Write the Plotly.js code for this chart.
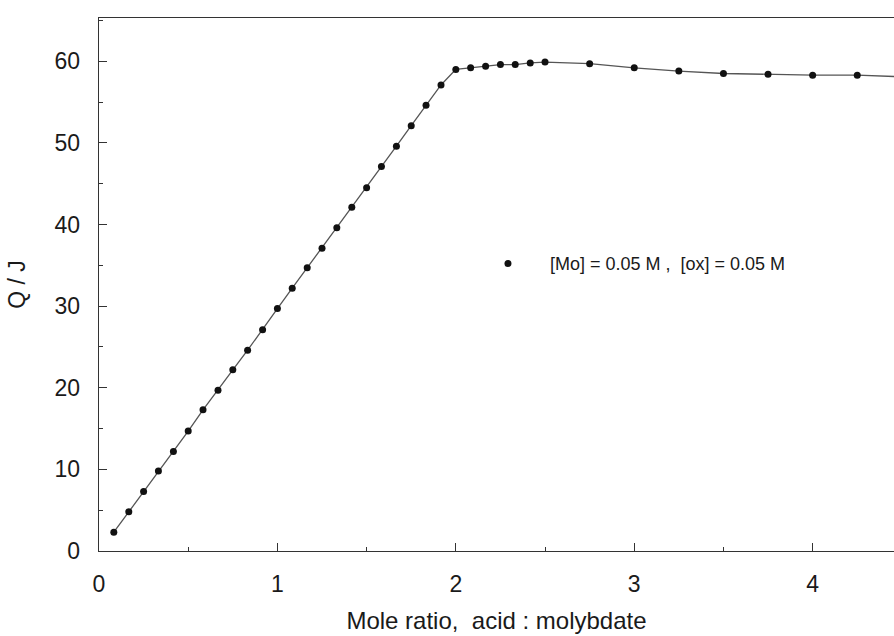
<!DOCTYPE html>
<html>
<head>
<meta charset="utf-8">
<script src="https://cdn.plot.ly/plotly-3.0.1.min.js"></script>
<style>
  html, body { margin: 0; padding: 0; background: #ffffff; }
  #chart { width: 894px; height: 636px; }
</style>
</head>
<body>
<div id="chart"></div>
<script>
// Mole ratio (acid : molybdate)
const moleRatio = [0.083, 0.167, 0.25, 0.333, 0.417, 0.5, 0.583, 0.667, 0.75, 0.833, 0.917, 1.0,
                   1.083, 1.167, 1.25, 1.333, 1.417, 1.5, 1.583, 1.667, 1.75, 1.833, 1.917, 2.0,
                   2.083, 2.167, 2.25, 2.333, 2.417, 2.5, 2.75, 3.0, 3.25, 3.5, 3.75, 4.0, 4.25, 4.5];
// Heat Q / J
const heatQ = [2.3, 4.8, 7.3, 9.8, 12.2, 14.7, 17.3, 19.7, 22.2, 24.6, 27.1, 29.7,
               32.2, 34.7, 37.1, 39.6, 42.1, 44.5, 47.1, 49.6, 52.1, 54.6, 57.1, 59.0,
               59.2, 59.4, 59.6, 59.6, 59.8, 59.9, 59.7, 59.2, 58.8, 58.5, 58.4, 58.3, 58.3, 58.1];
const seriesName = "[Mo] = 0.05 M ,  [ox] = 0.05 M";
const xTickVals = [0, 1, 2, 3, 4];
const yTickVals = [0, 10, 20, 30, 40, 50, 60];

const font = "Liberation Sans, Arial, Helvetica, sans-serif";

const traces = [
  {
    x: moleRatio, y: heatQ, type: "scatter", mode: "lines",
    line: { color: "#555555", width: 1.3 },
    showlegend: false, hoverinfo: "skip"
  },
  {
    x: moleRatio, y: heatQ, type: "scatter", mode: "markers",
    name: seriesName,
    marker: { color: "#111111", size: 7 }
  }
];

const layout = {
  width: 894, height: 636,
  paper_bgcolor: "#ffffff", plot_bgcolor: "#ffffff",
  margin: { l: 99, r: 0, t: 18, b: 85 },
  font: { family: font, color: "#1a1a1a" },
  showlegend: true,
  legend: {
    x: 0.4616, y: 0.539, xanchor: "left", yanchor: "middle",
    bgcolor: "rgba(0,0,0,0)", borderwidth: 0,
    itemwidth: 74,
    font: { family: font, size: 18, color: "#1a1a1a" }
  },
  xaxis: {
    range: [0, 4.456], autorange: false,
    tickvals: xTickVals, ticktext: xTickVals.map(String),
    ticks: "inside", ticklen: 8, tickwidth: 1, tickcolor: "#333",
    minor: { dtick: 0.5, ticks: "inside", ticklen: 4, tickwidth: 1, tickcolor: "#333" },
    showline: true, linecolor: "#333", linewidth: 1.3, mirror: true,
    showgrid: false, zeroline: false,
    ticklabelstandoff: 12,
    tickfont: { family: font, size: 23, color: "#1a1a1a" },
    title: { text: "Mole ratio,  acid : molybdate", font: { family: font, size: 24, color: "#1a1a1a" }, standoff: 16 }
  },
  yaxis: {
    range: [0, 65.3], autorange: false,
    tickvals: yTickVals, ticktext: yTickVals.map(String),
    ticks: "inside", ticklen: 8, tickwidth: 1, tickcolor: "#333",
    minor: { dtick: 5, ticks: "inside", ticklen: 4, tickwidth: 1, tickcolor: "#333" },
    showline: true, linecolor: "#333", linewidth: 1.3, mirror: false,
    showgrid: false, zeroline: false,
    ticklabelstandoff: 13,
    tickfont: { family: font, size: 23, color: "#1a1a1a" },
    title: { text: "Q / J", font: { family: font, size: 23, color: "#1a1a1a" }, standoff: 22 }
  }
};

Plotly.newPlot("chart", traces, layout, { staticPlot: true, displayModeBar: false });
</script>
</body>
</html>
